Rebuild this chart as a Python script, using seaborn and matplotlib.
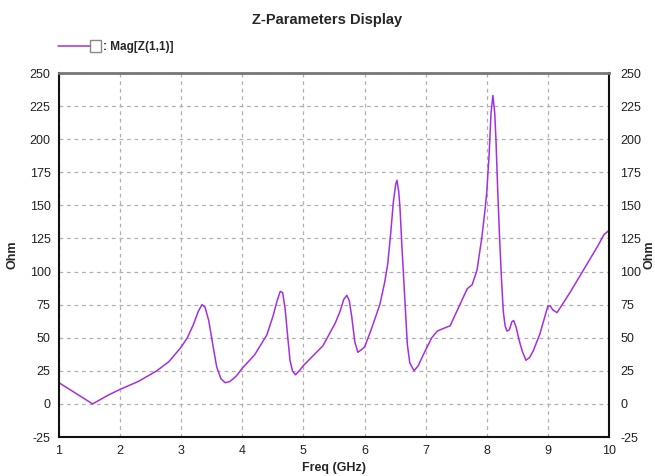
import matplotlib
matplotlib.use('Agg')
import matplotlib.pyplot as plt
import seaborn as sns
import pandas as pd
from matplotlib.lines import Line2D
from matplotlib.patches import Rectangle

# Frequency (GHz) and |Z(1,1)| (Ohm)
freq_ghz = [1.0, 1.55, 1.8, 2.0, 2.3, 2.6, 2.8, 3.0, 3.1, 3.2,
            3.28, 3.34, 3.39, 3.45, 3.52, 3.58, 3.65, 3.72, 3.8, 3.9,
            4.0, 4.2, 4.4, 4.5, 4.57, 4.62, 4.66, 4.7, 4.74, 4.78,
            4.82, 4.87, 4.95, 5.0, 5.15, 5.32, 5.52, 5.6, 5.66, 5.71,
            5.75, 5.79, 5.84, 5.89, 5.95, 6.0, 6.1, 6.25, 6.33, 6.38,
            6.43, 6.47, 6.51, 6.53, 6.56, 6.58, 6.61, 6.64, 6.67, 6.7,
            6.74, 6.81, 6.88, 6.96, 7.1, 7.19, 7.29, 7.4, 7.55, 7.68,
            7.76, 7.84, 7.92, 7.97, 8.0, 8.04, 8.07, 8.1, 8.13, 8.15,
            8.18, 8.21, 8.24, 8.27, 8.3, 8.33, 8.37, 8.41, 8.44, 8.48,
            8.53, 8.58, 8.64, 8.7, 8.76, 8.87, 9.0, 9.04, 9.08, 9.15,
            9.36, 9.58, 9.8, 9.92, 10.0]
mag_z11 = [16, 0, 6.5, 11, 17, 25, 32, 43, 50, 60,
           70, 75, 73, 63, 44, 28, 19, 16, 17, 21,
           27, 37, 52, 66, 78, 85, 84, 72, 52, 33,
           25, 22, 26, 29, 36, 44, 61, 70, 79, 82,
           78, 66, 47, 39, 41, 43, 55, 75, 92, 106,
           130, 152, 166, 169, 160, 148, 120, 95, 70, 45,
           31, 25, 29, 37, 50, 55, 57, 59, 74, 87,
           90, 101, 126, 146, 160, 190, 220, 233, 220, 200,
           160, 125, 95, 70, 59, 55, 56, 62, 63, 58,
           48, 40, 33, 35, 40, 53, 74, 74, 71, 69,
           84, 101, 118, 128, 131]

y_ticks = [-25, 0, 25, 50, 75, 100, 125, 150, 175, 200, 225, 250]
x_ticks = [1, 2, 3, 4, 5, 6, 7, 8, 9, 10]
line_color = '#a52fe0'

df = pd.DataFrame({'freq': freq_ghz, 'mag': mag_z11})

sns.set_style('white')
plt.rcParams['font.family'] = ['Liberation Sans', 'DejaVu Sans']
plt.rcParams['axes.unicode_minus'] = False

fig = plt.figure(figsize=(6.55, 4.76), dpi=100)
ax = fig.add_axes([59 / 655, 39 / 476, 550 / 655, 364 / 476])

sns.lineplot(data=df, x='freq', y='mag', ax=ax, color=line_color, linewidth=1.1)

ax.set_xlim(1, 10)
ax.set_ylim(-25, 250)
ax.set_xticks(x_ticks)
ax.set_yticks(y_ticks)
ax.grid(True, linestyle=(0, (3, 3)), color='#b0b0b0', linewidth=0.9)
ax.tick_params(axis='both', labelsize=9, length=0, colors='#222222', pad=6)
ax.set_xlabel('Freq (GHz)', fontsize=9, fontweight='bold', labelpad=3)
ax.set_ylabel('Ohm', fontsize=9, fontweight='bold', labelpad=8)

for side in ['left', 'bottom', 'right']:
    ax.spines[side].set_color('#111111')
    ax.spines[side].set_linewidth(1.5)
ax.spines['top'].set_color('#777777')
ax.spines['top'].set_linewidth(2)

ax2 = ax.twinx()
ax2.set_ylim(ax.get_ylim())
ax2.set_yticks(y_ticks)
ax2.tick_params(axis='y', labelsize=9, length=0, colors='#222222', pad=8)
ax2.set_ylabel('Ohm', fontsize=9, fontweight='bold', labelpad=2)
for sp in ax2.spines.values():
    sp.set_visible(False)

fig.suptitle('Z-Parameters Display', fontsize=10.5, fontweight='bold', y=0.972)

# legend drawn in figure pixels, like the original tool's header
fig.add_artist(Line2D([58 / 655, 90 / 655], [1 - 46 / 476, 1 - 46 / 476],
                      color=line_color, linewidth=1.1, transform=fig.transFigure))
fig.add_artist(Rectangle((90 / 655, 1 - 52 / 476), 11 / 655, 12 / 476,
                         facecolor='white', edgecolor='#888888', linewidth=1,
                         transform=fig.transFigure))
fig.text(103 / 655, 1 - 47 / 476, ': Mag[Z(1,1)]', fontsize=8.5,
         fontweight='bold', va='center', ha='left')

fig.savefig('out.png', dpi=100)
